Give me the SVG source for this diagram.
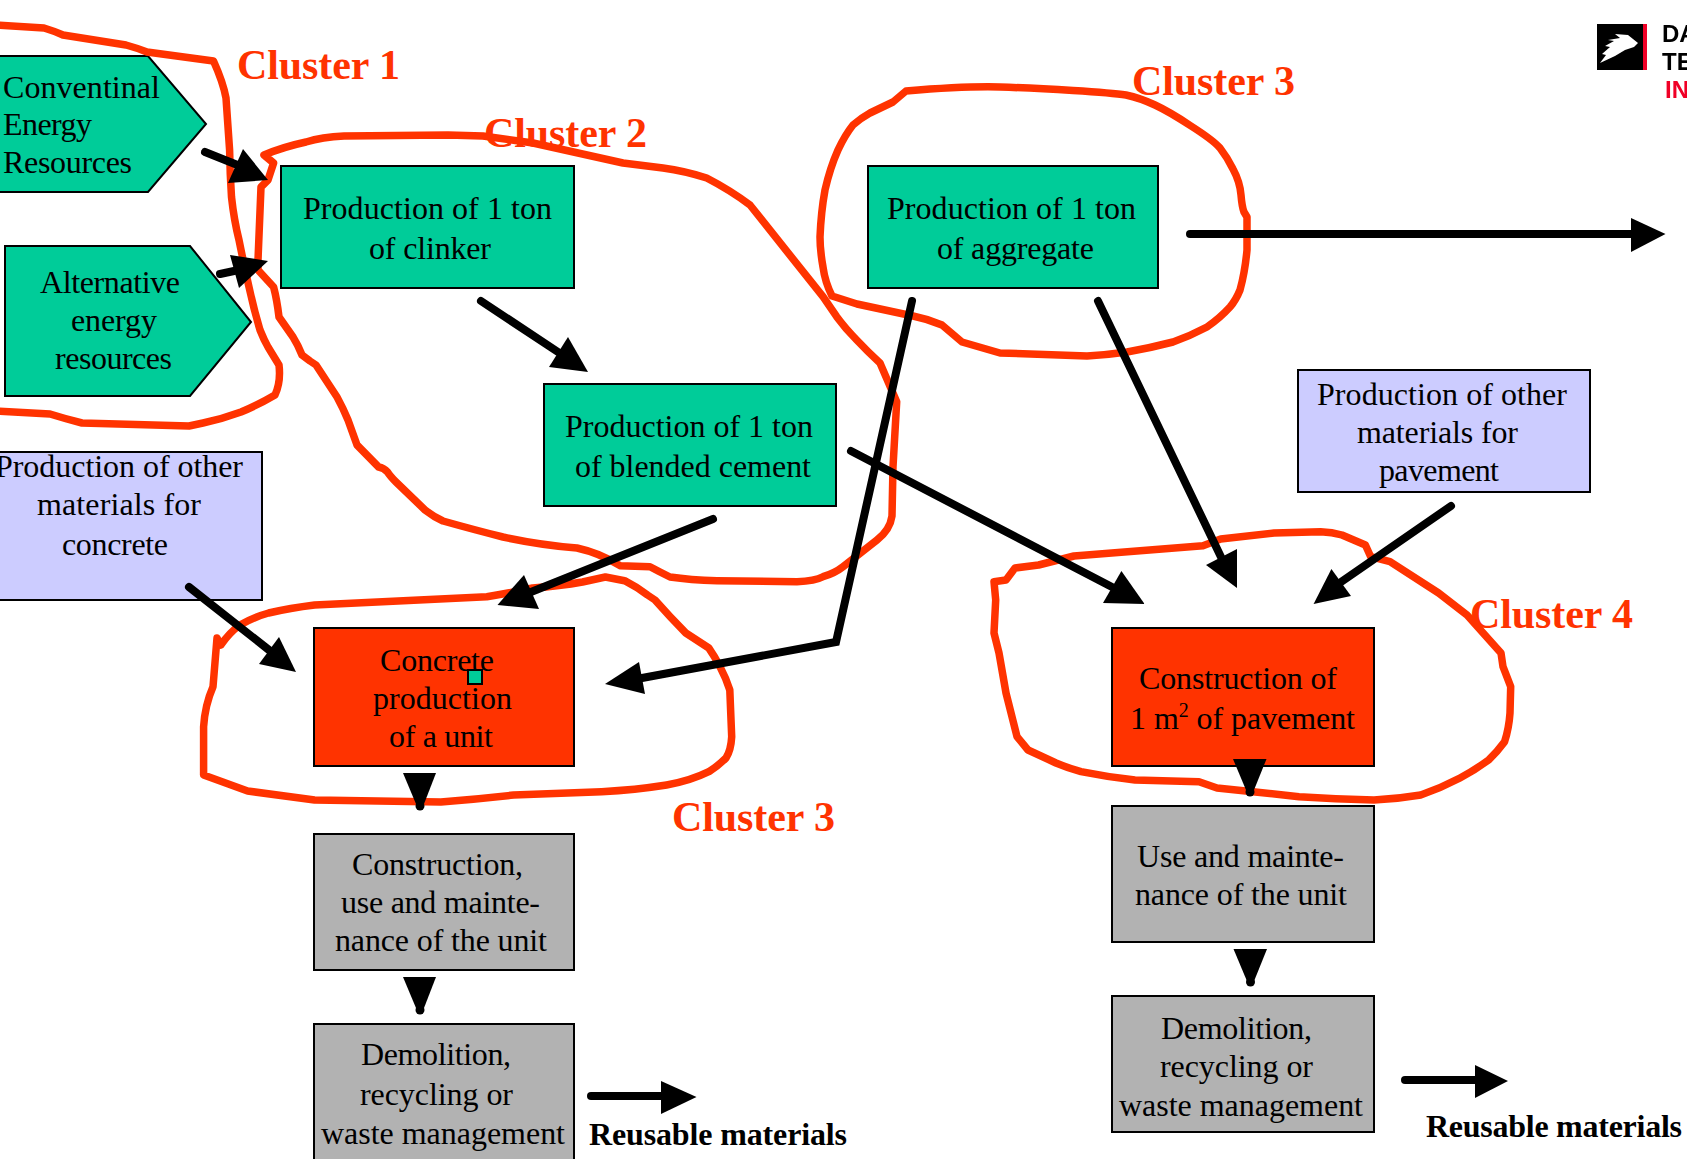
<svg xmlns="http://www.w3.org/2000/svg" width="1687" height="1159" viewBox="0 0 1687 1159">
<style>
.n{stroke:#000;stroke-width:2}
.g{fill:#00CC99}.r{fill:#FF3300}.b{fill:#CCCCFF}.y{fill:#B2B2B2}
text{font-family:"Liberation Serif","Times New Roman",serif;font-size:32px;fill:#000}
.cl{font-weight:bold;font-size:42px;fill:#FF3300}
.rm{font-weight:bold;font-size:32px}
.lg{font-family:"Liberation Sans",Arial,sans-serif;font-weight:bold;font-size:24px}
.c path{fill:none;stroke:#FF3300;stroke-width:7.5;stroke-linejoin:round;stroke-linecap:round}
.a path{fill:none;stroke:#000;stroke-width:8;stroke-linejoin:miter;stroke-linecap:round}
.a polygon,.a circle{fill:#000}
</style>
<defs><filter id="soft" x="-5%" y="-5%" width="110%" height="110%"><feGaussianBlur stdDeviation="0.5"/></filter></defs>
<rect width="1687" height="1159" fill="#fff"/>
<g id="logo" filter="url(#soft)">
<rect x="1597" y="24" width="46" height="46" fill="#000"/>
<rect x="1643" y="24" width="4" height="46" fill="#F00028"/>
<path d="M1615 34L1628 35L1638 43L1634 47L1625 50L1615 56L1600 63L1606 55L1602 54L1610 47L1605 46L1614 41L1608 40L1620 38Z" fill="#fff"/>
<text class="lg" x="1662" y="42">DA</text>
<text class="lg" x="1662" y="70">TE</text>
<text class="lg" x="1665" y="98" style="fill:#F00028">IN</text>
</g>
<g id="conventional-energy">
<polygon class="n g" points="-5,56 148,56 206,124 148,192 -5,192"/>
<text x="3" y="98" textLength="157">Conventinal</text>
<text x="3" y="135" textLength="89">Energy</text>
<text x="3" y="173" textLength="129">Resources</text>
</g>
<g id="alternative-energy">
<polygon class="n g" points="5,246 190,246 251,322 190,396 5,396"/>
<text x="40" y="293" textLength="140">Alternative</text>
<text x="71" y="331" textLength="86">energy</text>
<text x="55" y="369" textLength="117">resources</text>
</g>
<g id="clinker">
<rect class="n g" x="281" y="166" width="293" height="122"/>
<text x="303" y="219" textLength="249">Production of 1 ton</text>
<text x="369" y="259" textLength="122">of clinker</text>
</g>
<g id="blended-cement">
<rect class="n g" x="544" y="384" width="292" height="122"/>
<text x="565" y="437" textLength="248">Production of 1 ton</text>
<text x="575" y="477" textLength="236">of blended cement</text>
</g>
<g id="aggregate">
<rect class="n g" x="868" y="166" width="290" height="122"/>
<text x="887" y="219" textLength="249">Production of 1 ton</text>
<text x="937" y="259" textLength="157">of aggregate</text>
</g>
<g id="other-concrete">
<rect class="n b" x="-5" y="452" width="267" height="148"/>
<text x="-5" y="477" textLength="248">Production of other</text>
<text x="37" y="515" textLength="164">materials for</text>
<text x="62" y="555" textLength="106">concrete</text>
</g>
<g id="other-pavement">
<rect class="n b" x="1298" y="370" width="292" height="122"/>
<text x="1317" y="405" textLength="250">Production of other</text>
<text x="1357" y="443" textLength="161">materials for</text>
<text x="1379" y="481" textLength="120">pavement</text>
</g>
<g id="concrete-production">
<rect class="n r" x="314" y="628" width="260" height="138"/>
<text x="380" y="671" textLength="114">Concrete</text>
<text x="373" y="709" textLength="139">production</text>
<text x="389" y="747" textLength="104">of a unit</text>
<rect class="n g" x="468" y="670" width="14" height="14"/>
</g>
<g id="pavement-construction">
<rect class="n r" x="1112" y="628" width="262" height="138"/>
<text x="1139" y="689" textLength="198">Construction of</text>
<text x="1130" y="729" textLength="225">1 m<tspan font-size="20" dy="-12">2</tspan><tspan dy="12"> of pavement</tspan></text>
</g>
<g id="construction-use">
<rect class="n y" x="314" y="834" width="260" height="136"/>
<text x="352" y="875" textLength="171">Construction,</text>
<text x="341" y="913" textLength="199">use and mainte-</text>
<text x="335" y="951" textLength="212">nance of the unit</text>
</g>
<g id="demolition-left">
<rect class="n y" x="314" y="1024" width="260" height="145"/>
<text x="361" y="1065" textLength="150">Demolition,</text>
<text x="360" y="1105" textLength="153">recycling or</text>
<text x="321" y="1144" textLength="244">waste management</text>
</g>
<g id="use-maintenance">
<rect class="n y" x="1112" y="806" width="262" height="136"/>
<text x="1137" y="867" textLength="207">Use and mainte-</text>
<text x="1135" y="905" textLength="212">nance of the unit</text>
</g>
<g id="demolition-right">
<rect class="n y" x="1112" y="996" width="262" height="136"/>
<text x="1161" y="1039" textLength="151">Demolition,</text>
<text x="1160" y="1077" textLength="153">recycling or</text>
<text x="1119" y="1116" textLength="244">waste management</text>
</g>
<g id="clusters" class="c">
<path d="M-5 25L44 28Q54 31 63 35L126 45Q137 48 147 52L213.5 61Q223 82 226 98L229.6 150Q230 175 231.5 197Q234 220 239 240Q244 265 249 287Q254 310 260 330Q264 340 268 347L279 365Q281 382 275 395Q258 405 241 412Q222 419 203 423L189 426L82 423Q66 419 50 414L-5 411"/>
<path d="M264 155L273.6 163L268 180L261 187L258 260L258 270L273.6 287Q277 300 279 317L293 337Q298 345 302 355L310 361L316 365L337 397Q343 408 348 420L357 445L378.6 467Q384 468 387.5 472Q390 476 396 482L425 510Q434 517 443 521Q475 530 503 537Q540 545 577 548Q600 553 620 565.7L650 566.7Q660 572 670 577Q690 580 717 580.7L797 581.7Q815 581 823 576.7Q835 573 843 566.7L877 540Q890 530 892 516L893 466.7L896.7 401.7L880 363Q868 352 856.7 340Q845 328 836.7 316.7L823 296.7L750 205Q730 190 706.7 178Q685 171 663 168L623 163L533 143L483 136L448 135L344 136Q322 137 306 142Q283 147 264 155"/>
<path d="M906 91Q966 86 1000 87Q1033 88 1073 90.5Q1113 93 1126 95Q1140 98 1155 105Q1170 112 1191 126Q1213 140 1220 148Q1227 157 1233 169Q1240 182 1241 195Q1242 207 1244 212L1247 217L1247 250Q1245 272 1240 290Q1236 300 1230 307Q1220 318 1207 327Q1190 336 1173 342Q1150 348 1127 352Q1106 355 1087 356L1000 353L962 342L942 325Q928 319 913 316L857 304L832 296Q825 282 823 267Q820 250 820 237Q821 212 825 190Q830 168 838 150Q845 135 853 125Q861 118 870 113L893 102Z"/>
<path d="M217 638L220.8 645Q230 632 240 625Q254 617 268.6 613Q290 608 314.6 605L486.8 596.7Q510 593 532.7 588Q560 586 582.5 582L605.4 577L624.6 580.7Q637 587 647.5 595L655 600Q670 617 685.8 633L708.8 648Q715 657 720 666.7Q726 678 729.8 690L731.7 736.7Q731 750 726 758Q718 766 708.8 771.7Q690 781 666.6 785Q635 790 601.6 791.7L513.6 795Q478 799 440.9 802L314.6 800L247.6 791L203.6 775L203.6 726.7Q205 705 213 686.7Z"/>
<path d="M994 581.7L1006 580L1015 568L1038.6 565L1074 556L1203 545.7L1220.7 539L1274 533L1320.7 531.7Q1332 532 1342 535L1365.4 545L1370.7 556.7L1390 561.7L1438.6 593L1467 615L1501 653L1503 666.7L1510.7 686.7L1510 713Q1509 728 1504.6 741.7Q1497 752 1488.6 760Q1475 770 1460 778Q1441 788 1420.7 795Q1397 799 1374 800Q1335 799 1299 796.7L1252.9 791.7L1217 788L1199 781.7L1135 780Q1107 777 1081 771.7Q1068 768 1056 763L1028 750L1017 736.7L1006 693L999 653L994 633L995.7 600Z"/>
</g>
<g id="connectors" class="a">
<g><path d="M205 152L240 166"/><polygon points="268,180 243,149 228,183"/></g>
<g><path d="M220 274L234 271"/><polygon points="268,261 230,255 239,288"/></g>
<g><path d="M481 301L558 352"/><polygon points="588,372 568,337 549,367"/></g>
<g><path d="M713 519L531 592"/><polygon points="497.5,605 524,575 539,609"/></g>
<g><path d="M189 587L269 650"/><polygon points="296,672 279,637 259,664"/></g>
<g><path d="M912 301L836 642L642 678"/><polygon points="605,684 639,662 645,694"/></g>
<g><path d="M851 451L1112 587"/><polygon points="1144.6,604 1121.4,571 1103,603"/></g>
<g><path d="M1098 301L1221 557"/><polygon points="1237,588 1237,549 1206,565"/></g>
<g><path d="M1451 506L1341 582"/><polygon points="1313.6,604 1331.4,569 1351,596"/></g>
<g><path d="M1190 234L1631 234"/><polygon points="1665.5,234 1631,218 1631,252"/></g>
<g><polygon points="403,773 436,773 424,804 420,810 416,804"/><circle cx="420" cy="806" r="4.5"/></g>
<g><polygon points="403,977 436,977 424,1008 420,1014 416,1008"/><circle cx="420" cy="1010" r="4.5"/></g>
<g><polygon points="1233,759 1266.5,759 1254,790 1250,796 1246,790"/><circle cx="1250" cy="792" r="4.5"/></g>
<g><polygon points="1233.5,949 1267,949 1254.5,980 1250.5,986 1246.5,980"/><circle cx="1250.5" cy="982" r="4.5"/></g>
<g><path d="M591 1096L661 1096"/><polygon points="696.5,1097 661,1081 661,1114"/></g>
<g><path d="M1405 1080L1475 1080"/><polygon points="1508,1081 1475,1065 1475,1098"/></g>
</g>
<g id="labels">
<text class="cl" x="237" y="79" textLength="163">Cluster 1</text>
<text class="cl" x="484" y="147" textLength="163">Cluster 2</text>
<text class="cl" x="1132" y="95" textLength="163">Cluster 3</text>
<text class="cl" x="672" y="831" textLength="163">Cluster 3</text>
<text class="cl" x="1470" y="628" textLength="163">Cluster 4</text>
<text class="rm" x="589" y="1145" textLength="258">Reusable materials</text>
<text class="rm" x="1426" y="1137" textLength="256">Reusable materials</text>
</g>
</svg>
